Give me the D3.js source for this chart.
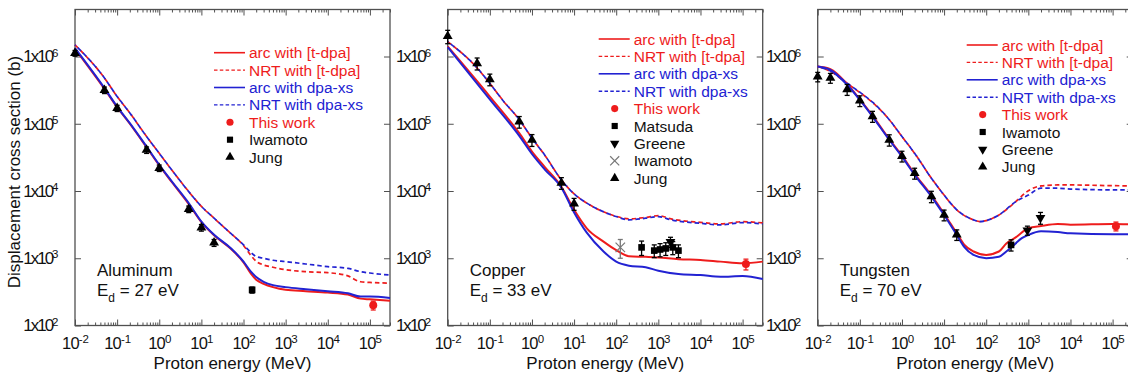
<!DOCTYPE html>
<html><head><meta charset="utf-8">
<script src="https://cdn.jsdelivr.net/npm/d3@7"></script>
<style>
body{margin:0;background:#fff;}
svg{display:block;font-family:"Liberation Sans",Arial,Helvetica,sans-serif;}
</style></head><body>
<svg id="c" width="1128" height="376"></svg>
<script>
// ---------- DATA (energy MeV, cross section b) ----------
const xMajorTicks = [1e-2,1e-1,1e0,1e1,1e2,1e3,1e4,1e5];
const yMajorTicks = [1e2,1e3,1e4,1e5,1e6];
const legendLabels = ["arc with [t-dpa]","NRT with [t-dpa]","arc with dpa-xs","NRT with dpa-xs"];

// Aluminum
const alArcTdpa = [[0.01,1.30e6],[0.05,3.3e5],[0.1,1.76e5],[0.2,1.0e5],[0.5,4.47e4],[1,2.4e4],[2,1.35e4],[5,6.4e3],[10,3.45e3],[20,2.2e3],[50,1.38e3],[100,870],[150,589],[200,479],[300,417],[500,372],[1e3,339],[3e3,324],[1e4,309],[3e4,288],[6e4,251],[1e5,245],[3e5,234]];
const alNrtTdpa = [[0.01,1.49e6],[0.05,4.8e5],[0.1,2.54e5],[0.2,1.45e5],[0.5,6.46e4],[1,3.63e4],[2,2.04e4],[5,9.8e3],[10,5.9e3],[20,3.94e3],[50,2.34e3],[100,1.55e3],[150,1.1e3],[200,900],[300,794],[500,735],[1e3,676],[3e3,631],[1e4,610],[3e4,546],[6e4,447],[1e5,437],[3e5,427]];
const alArcDpaxs = [[0.01,1.33e6],[0.05,3.39e5],[0.1,1.80e5],[0.2,1.02e5],[0.5,4.57e4],[1,2.45e4],[2,1.38e4],[5,6.6e3],[10,3.51e3],[20,2.24e3],[50,1.41e3],[100,891],[150,631],[200,525],[300,447],[500,398],[1e3,372],[3e3,347],[1e4,324],[3e4,302],[6e4,269],[1e5,269],[3e5,257]];
const alNrtDpaxs = [[0.01,1.49e6],[0.05,4.8e5],[0.1,2.54e5],[0.2,1.45e5],[0.5,6.46e4],[1,3.63e4],[2,2.04e4],[5,9.8e3],[10,5.9e3],[20,3.94e3],[50,2.34e3],[100,1.58e3],[150,1.22e3],[200,1.06e3],[300,1.0e3],[500,933],[1e3,891],[3e3,822],[1e4,750],[3e4,708],[6e4,631],[1e5,603],[3e5,562]];
const alThisWork = [[1.2e5,200,30]];
const alIwamoto = [[160,338,35]];
const alJung = [[0.01,1.12e6,1.1e5],[0.05,3.16e5,3.5e4],[0.1,1.7e5,1.8e4],[0.5,4.07e4,4.5e3],[1,2.19e4,2.4e3],[5,5.37e3,6e2],[10,2.85e3,3.2e2],[20,1.7e3,2e2]];

// Copper
const cuArcTdpa = [[0.01,1.41e6],[0.1,2.54e5],[0.5,7.24e4],[1,3.86e4],[2,2.29e4],[5,1.16e4],[10,5.25e3],[20,2.79e3],[50,1.77e3],[100,1.32e3],[200,1.07e3],[500,1.05e3],[1e3,1.03e3],[3e3,966],[1e4,944],[3e4,891],[1e5,841],[3e5,891]];
const cuNrtTdpa = [[0.01,1.66e6],[0.05,6.76e5],[0.1,3.98e5],[0.2,2.26e5],[0.5,1.15e5],[1,6.11e4],[2,3.44e4],[5,1.46e4],[10,9.06e3],[20,6.6e3],[50,4.9e3],[100,4.2e3],[200,3.85e3],[500,4.05e3],[1e3,4.3e3],[2e3,3.85e3],[1e4,3.42e3],[3e4,3.25e3],[1e5,3.5e3],[3e5,3.35e3]];
const cuArcDpaxs = [[0.01,1.38e6],[0.1,2.3e5],[0.5,6.6e4],[1,3.55e4],[2,2.1e4],[5,1.12e4],[10,4.8e3],[20,2.4e3],[50,1.26e3],[100,891],[200,776],[500,735],[1e3,653],[3e3,583],[1e4,562],[3e4,532],[1e5,543],[3e5,490]];
const cuNrtDpaxs = [[0.01,1.66e6],[0.05,6.76e5],[0.1,3.98e5],[0.2,2.26e5],[0.5,1.15e5],[1,6.11e4],[2,3.44e4],[5,1.46e4],[10,9.06e3],[20,6.6e3],[50,4.9e3],[100,4.17e3],[200,3.72e3],[500,3.94e3],[1e3,4.17e3],[2e3,3.72e3],[1e4,3.31e3],[3e4,3.13e3],[1e5,3.39e3],[3e5,3.24e3]];
const cuThisWork = [[1.2e5,820,150]];
const cuMatsuda = [[400,1.45e3,3.5e2],[800,1.3e3,2.8e2],[1100,1.35e3,3e2],[1500,1.4e3,3e2],[2200,1.45e3,3.2e2],[3000,1.3e3,2.8e2]];
const cuGreene = [[1940,1.75e3,3e2]];
const cuIwamoto = [[125,1.45e3,4.5e2]];
const cuJung = [[0.01,2.0e6,4.5e5],[0.05,7.9e5,1.6e5],[0.1,4.57e5,9e4],[0.5,1.07e5,2.1e4],[1,5.75e4,1.15e4],[5,1.32e4,2.6e3],[10,6.46e3,1.3e3]];

// Tungsten
const wArcTdpa = [[0.01,7.1e5],[0.02,6.5e5],[0.05,3.9e5],[0.1,2.3e5],[0.2,1.32e5],[0.5,5.9e4],[1,3.35e4],[2,1.8e4],[5,8.6e3],[10,4.6e3],[20,2.35e3],[30,1.6e3],[50,1.26e3],[100,1.12e3],[200,1.26e3],[300,1.66e3],[500,2.04e3],[1e3,2.79e3],[2e3,3.02e3],[5e3,3.24e3],[1e4,3.16e3],[1e5,3.24e3],[3e5,3.2e3]];
const wNrtTdpa = [[0.01,7.1e5],[0.02,6.0e5],[0.05,3.98e5],[0.1,2.92e5],[0.2,2.07e5],[0.5,1.15e5],[1,6.46e4],[2,3.63e4],[5,1.55e4],[10,8.7e3],[20,5.25e3],[50,3.72e3],[70,3.51e3],[100,3.63e3],[200,4.4e3],[500,6.92e3],[1e3,1.01e4],[2e3,1.19e4],[5e3,1.23e4],[1e4,1.23e4],[1e5,1.2e4],[3e5,1.19e4]];
const wArcDpaxs = [[0.01,7.1e5],[0.02,6.3e5],[0.05,3.8e5],[0.1,2.26e5],[0.2,1.28e5],[0.5,5.75e4],[1,3.24e4],[2,1.74e4],[5,8.26e3],[10,4.4e3],[20,2.22e3],[30,1.48e3],[50,1.12e3],[100,1.0e3],[200,1.05e3],[300,1.26e3],[500,1.66e3],[700,1.99e3],[1e3,2.22e3],[2e3,2.51e3],[5e3,2.45e3],[1e4,2.35e3],[1e5,2.27e3],[3e5,2.27e3]];
const wNrtDpaxs = [[0.01,7.1e5],[0.02,6.1e5],[0.05,4.0e5],[0.1,2.95e5],[0.2,2.1e5],[0.5,1.15e5],[1,6.46e4],[2,3.63e4],[5,1.55e4],[10,8.7e3],[20,5.25e3],[50,3.72e3],[70,3.51e3],[100,3.63e3],[200,4.4e3],[500,6.92e3],[1e3,8.7e3],[2e3,1.1e4],[5e3,1.1e4],[1e4,1.07e4],[1e5,1.04e4],[3e5,1.04e4]];
const wThisWork = [[1.2e5,3.0e3,450]];
const wIwamoto = [[389,1.58e3,3e2]];
const wGreene = [[950,2.6e3,4e2],[1940,4.0e3,8e2]];
const wJung = [[0.01,5.0e5,8e4],[0.02,4.8e5,8e4],[0.05,3.24e5,6e4],[0.1,2.2e5,4e4],[0.2,1.29e5,2.4e4],[0.5,5.75e4,1.1e4],[1,3.3e4,6e3],[2,1.84e4,3.4e3],[5,8.3e3,1.6e3],[10,4.4e3,8e2],[20,2.24e3,4e2]];

// ---------- STYLE / LAYOUT ----------
const RED = "#ee1c1c", BLUE = "#2222d2";
const W = 315, H = 316, TOP = 9.5;
const panels = [
  {left:75, name:"Aluminum", ed:"27", curves:[alArcTdpa,alNrtTdpa,alArcDpaxs,alNrtDpaxs],
   points:[{lab:"This work",type:"circle",data:alThisWork},{lab:"Iwamoto",type:"square",data:alIwamoto},{lab:"Jung",type:"tri",data:alJung}],
   legX:139, legY:52.7},
  {left:447.7, name:"Copper", ed:"33", curves:[cuArcTdpa,cuNrtTdpa,cuArcDpaxs,cuNrtDpaxs],
   points:[{lab:"This work",type:"circle",data:cuThisWork},{lab:"Matsuda",type:"square",data:cuMatsuda},{lab:"Greene",type:"itri",data:cuGreene},{lab:"Iwamoto",type:"x",data:cuIwamoto},{lab:"Jung",type:"tri",data:cuJung}],
   legX:151, legY:39},
  {left:817.7, name:"Tungsten", ed:"70", curves:[wArcTdpa,wNrtTdpa,wArcDpaxs,wNrtDpaxs],
   points:[{lab:"This work",type:"circle",data:wThisWork},{lab:"Iwamoto",type:"square",data:wIwamoto},{lab:"Greene",type:"itri",data:wGreene},{lab:"Jung",type:"tri",data:wJung}],
   legX:149, legY:45}
];
const curveStyles = [
  {color:RED, dash:null},{color:RED, dash:"4.5,3"},{color:BLUE, dash:null},{color:BLUE, dash:"4.5,3"}
];

const x = d3.scaleLog().domain([1e-2,3e5]).range([0,W]);
const y = d3.scaleLog().domain([1e2,5e6]).range([H,0]);
const xMinor = [];
for (let d=-2; d<=5; d++) for (let k=2;k<=9;k++){ const v=k*Math.pow(10,d); if (v<=3e5) xMinor.push(v); }

const svg = d3.select("#c");
const FRAME = "#505050";

function markerPath(type, size){
  if (type==="circle") return d3.symbol(d3.symbolCircle, size||48)();
  if (type==="square") return d3.symbol(d3.symbolSquare, size||40)();
  if (type==="tri" || type==="itri") return d3.symbol(d3.symbolTriangle, size||40)();
  if (type==="x") return d3.symbol(d3.symbolX, size||50)();
}
function markerStyle(sel, type){
  if (type==="circle") sel.attr("fill",RED).attr("stroke","none");
  else if (type==="x") sel.attr("fill","none").attr("stroke","#777").attr("stroke-width",1.2);
  else sel.attr("fill","#000").attr("stroke","none");
}

function supLabel(textSel, base){
  textSel.each(function(d){
    const t = d3.select(this);
    const e = Math.round(Math.log10(d));
    t.text(null);
    t.append("tspan").text(base);
    t.append("tspan").attr("dy","-0.5em").attr("font-size","11.5px").attr("letter-spacing","0px").text(e);
  });
}

panels.forEach((p,pi)=>{
  const g = svg.append("g").attr("transform",`translate(${p.left},${TOP})`);
  // axes
  const bot = g.append("g").attr("transform",`translate(0,${H})`)
    .call(d3.axisBottom(x).tickValues(xMajorTicks).tickSize(-6).tickPadding(11.5));
  bot.selectAll(".tick text").attr("font-size","16.5px").attr("letter-spacing","-0.8px").attr("fill","#111").attr("font-family",null);
  supLabel(bot.selectAll(".tick text"), "10");
  g.append("g").attr("transform",`translate(0,${H})`)
    .call(d3.axisBottom(x).tickValues(xMinor).tickSize(-3).tickFormat(""));
  g.append("g").call(d3.axisTop(x).tickValues(xMajorTicks).tickSize(-6).tickFormat(""));
  g.append("g").call(d3.axisTop(x).tickValues(xMinor).tickSize(-3).tickFormat(""));
  const lf = g.append("g").call(d3.axisLeft(y).tickValues(yMajorTicks).tickSize(-6).tickPadding(16.5));
  lf.selectAll(".tick text").attr("font-size","17px").attr("letter-spacing","-2px").attr("fill","#111").attr("font-family",null);
  supLabel(lf.selectAll(".tick text"), "1x10");
  g.append("g").attr("transform",`translate(${W},0)`)
    .call(d3.axisRight(y).tickValues(yMajorTicks).tickSize(-6).tickFormat(""));
  g.selectAll(".domain").remove();
  g.selectAll(".tick line").attr("stroke",FRAME).attr("stroke-width",1);
  g.append("rect").attr("width",W).attr("height",H).attr("fill","none").attr("stroke",FRAME).attr("stroke-width",1.3);

  // curves
  const line = d3.line().x(d=>x(d[0])).y(d=>y(d[1])).curve(d3.curveMonotoneX);
  p.curves.forEach((c,ci)=>{
    const st = curveStyles[ci];
    g.append("path").datum(c).attr("d",line).attr("fill","none")
      .attr("stroke",st.color).attr("stroke-width",st.dash?1.7:2)
      .attr("stroke-dasharray",st.dash).attr("stroke-dashoffset", ci===3?3.5:0);
  });

  // data points
  p.points.forEach(s=>{
    const col = s.type==="circle"?RED:(s.type==="x"?"#777":"#000");
    s.data.forEach(d=>{
      const cx=x(d[0]), cy=y(d[1]);
      const y1=y(d[1]+d[2]), y2=y(Math.max(d[1]-d[2],1));
      g.append("line").attr("x1",cx).attr("x2",cx).attr("y1",y1).attr("y2",y2).attr("stroke",col).attr("stroke-width",1.3);
      [y1,y2].forEach(yy=>g.append("line").attr("x1",cx-2.5).attr("x2",cx+2.5).attr("y1",yy).attr("y2",yy).attr("stroke",col).attr("stroke-width",1.3));
      const m = g.append("path").attr("d",markerPath(s.type, s.type==="circle"?50:(s.type==="square"?44:(s.type==="x"?60:42))))
        .attr("transform",`translate(${cx},${cy})`+(s.type==="itri"?" rotate(180)":""));
      markerStyle(m, s.type);
    });
  });

  // legend
  const step = 17.4;
  const leg = g.append("g").attr("transform",`translate(${p.legX},${p.legY-TOP})`);
  legendLabels.forEach((lab,i)=>{
    const st = curveStyles[i];
    leg.append("line").attr("x1",0).attr("x2",31).attr("y1",i*step).attr("y2",i*step)
      .attr("stroke",st.color).attr("stroke-width",st.dash?1.4:1.6).attr("stroke-dasharray",st.dash?"3.5,2.3":null);
    leg.append("text").attr("x",35).attr("y",i*step+5.5).attr("font-size","15.5px").attr("fill",st.color).text(lab);
  });
  p.points.forEach((s,j)=>{
    const yy = (4+j)*step;
    const m = leg.append("path").attr("d",markerPath(s.type, s.type==="circle"?40:(s.type==="x"?55:38)))
      .attr("transform",`translate(16,${yy})`+(s.type==="itri"?" rotate(180)":""));
    markerStyle(m, s.type);
    leg.append("text").attr("x",35).attr("y",yy+5.5).attr("font-size","15.5px")
      .attr("fill", s.type==="circle"?RED:"#111").text(s.lab);
  });

  // annotations
  g.append("text").attr("x",22).attr("y",276-TOP).attr("font-size","17px").attr("fill","#111").text(p.name);
  const ed = g.append("text").attr("x",22).attr("y",296-TOP).attr("font-size","17px").attr("fill","#111");
  ed.append("tspan").text("E");
  ed.append("tspan").attr("dy",6).attr("font-size","12px").text("d");
  ed.append("tspan").attr("dy",-6).text(" = "+p.ed+" eV");

  // x title
  g.append("text").attr("x",W/2).attr("y",369-TOP).attr("text-anchor","middle").attr("font-size","17px").attr("fill","#111").text("Proton energy (MeV)");
});

svg.append("text").attr("transform","translate(20,172) rotate(-90)").attr("text-anchor","middle")
  .attr("font-size","17px").attr("fill","#111").text("Displacement cross section (b)");
</script>
</body></html>
